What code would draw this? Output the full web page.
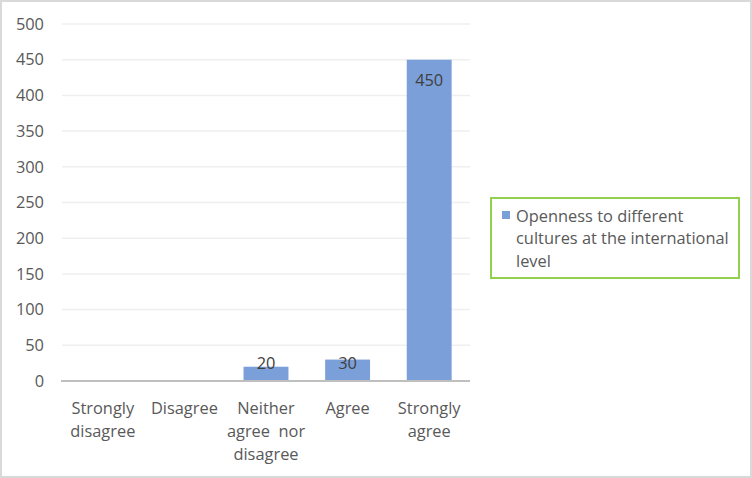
<!DOCTYPE html>
<html>
<head>
<meta charset="utf-8">
<script src="https://cdn.jsdelivr.net/npm/d3@7"></script>
<style>
  body { margin: 0; background: #fff; }
  svg { display: block; font-family: "Open Sans", "Noto Sans", sans-serif; }
</style>
</head>
<body>
<div id="chart"></div>
<script>
const categories = [
  ["Strongly", "disagree"],
  ["Disagree"],
  ["Neither", "agree  nor", "disagree"],
  ["Agree"],
  ["Strongly", "agree"],
];
const values = [0, 0, 20, 30, 450];
const yTicks = [0, 50, 100, 150, 200, 250, 300, 350, 400, 450, 500];
const seriesName = ["Openness to different", "cultures at the international", "level"];

const width = 752;
const height = 478;
const margin = { top: 24, right: 282, bottom: 97, left: 62 };
const fontSize = "16.4px";

const svg = d3
  .select("#chart")
  .append("svg")
  .attr("width", width)
  .attr("height", height);

// outer chart border
svg
  .append("rect")
  .attr("x", 1)
  .attr("y", 1)
  .attr("width", width - 2)
  .attr("height", height - 2)
  .attr("fill", "#fff")
  .attr("stroke", "#d9d9d9")
  .attr("stroke-width", 2);

const data = categories.map((c, i) => ({ key: i, label: c, value: values[i] }));

const x = d3
  .scaleBand()
  .domain(data.map((d) => d.key))
  .range([margin.left, width - margin.right])
  .paddingInner(0.45)
  .paddingOuter(0.225);

const y = d3
  .scaleLinear()
  .domain([0, 500])
  .range([height - margin.bottom, margin.top]);

// gridlines
svg
  .append("g")
  .selectAll("line")
  .data(yTicks.filter((t) => t > 0))
  .enter()
  .append("line")
  .attr("x1", margin.left)
  .attr("x2", width - margin.right)
  .attr("y1", (d) => y(d))
  .attr("y2", (d) => y(d))
  .attr("stroke", "#efefef")
  .attr("stroke-width", 1.5);

// y tick labels
svg
  .append("g")
  .selectAll("text")
  .data(yTicks)
  .enter()
  .append("text")
  .attr("x", 44)
  .attr("y", (d) => y(d))
  .attr("dy", "0.35em")
  .attr("text-anchor", "end")
  .attr("fill", "#595959")
  .style("font-size", fontSize)
  .text((d) => d);

// bars
svg
  .append("g")
  .selectAll("rect")
  .data(data)
  .enter()
  .append("rect")
  .attr("x", (d) => x(d.key))
  .attr("y", (d) => y(d.value))
  .attr("width", x.bandwidth())
  .attr("height", (d) => y(0) - y(d.value))
  .attr("fill", "#7b9fd8");

// x axis line
svg
  .append("line")
  .attr("x1", margin.left - 1)
  .attr("x2", width - margin.right)
  .attr("y1", y(0))
  .attr("y2", y(0))
  .attr("stroke", "#bfbfbf")
  .attr("stroke-width", 2);

// data labels (inside end, kept above the axis)
svg
  .append("g")
  .selectAll("text")
  .data(data.filter((d) => d.value > 0))
  .enter()
  .append("text")
  .attr("x", (d) => x(d.key) + x.bandwidth() / 2)
  .attr("y", (d) => Math.min(y(d.value) + 21, y(0) - 18))
  .attr("dy", "0.35em")
  .attr("text-anchor", "middle")
  .attr("fill", "#404040")
  .style("font-size", fontSize)
  .text((d) => d.value);

// category labels
const catLabels = svg
  .append("g")
  .selectAll("text")
  .data(data)
  .enter()
  .append("text")
  .attr("text-anchor", "middle")
  .attr("fill", "#595959")
  .style("font-size", fontSize);

catLabels
  .selectAll("tspan")
  .data((d) => d.label.map((l) => ({ l, cx: x(d.key) + x.bandwidth() / 2 })))
  .enter()
  .append("tspan")
  .attr("x", (d) => d.cx)
  .attr("y", (d, i) => 408 + i * 23)
  .attr("dy", "0.35em")
  .style("white-space", "pre")
  .text((d) => d.l);

// legend
const legend = svg.append("g");
legend
  .append("rect")
  .attr("x", 491)
  .attr("y", 198)
  .attr("width", 248)
  .attr("height", 80)
  .attr("fill", "#fff")
  .attr("stroke", "#92d050")
  .attr("stroke-width", 2);

legend
  .append("rect")
  .attr("x", 502)
  .attr("y", 211)
  .attr("width", 8)
  .attr("height", 8)
  .attr("fill", "#7b9fd8");

legend
  .append("text")
  .attr("fill", "#595959")
  .style("font-size", fontSize)
  .selectAll("tspan")
  .data(seriesName)
  .enter()
  .append("tspan")
  .attr("x", 516)
  .attr("y", (d, i) => 216 + i * 22.5)
  .attr("dy", "0.35em")
  .text((d) => d);
</script>
</body>
</html>
